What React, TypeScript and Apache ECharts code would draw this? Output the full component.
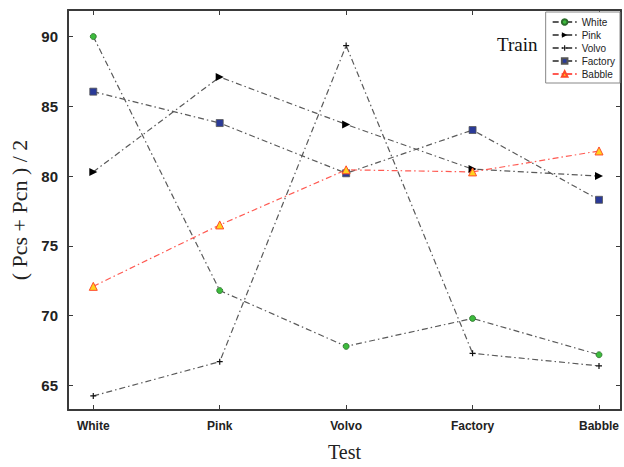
import React, { useEffect, useRef } from "react";
import * as echarts from "echarts";

const categories = ["White", "Pink", "Volvo", "Factory", "Babble"];
const whiteVals = [90.0, 71.8, 67.8, 69.8, 67.2];
const pinkVals = [80.3, 87.1, 83.7, 80.5, 80.0];
const volvoVals = [64.25, 66.7, 89.35, 67.3, 66.4];
const factoryVals = [86.05, 83.8, 80.2, 83.3, 78.3];
const babbleVals = [72.1, 76.5, 80.45, 80.3, 81.8];
const yTicks = [65, 70, 75, 80, 85, 90];
const xTicks = [0, 1, 2, 3, 4];

const toPts = (vals: number[]) => vals.map((v, i) => [i, v]);

const plusPath = "path://M4,0 L6,0 L6,4 L10,4 L10,6 L6,6 L6,10 L4,10 L4,6 L0,6 L0,4 L4,4 Z";

export default function App() {
  const ref = useRef<HTMLDivElement>(null);
  useEffect(() => {
    if (!ref.current) return;
    const chart = echarts.init(ref.current, null, { renderer: "svg" });
    const dashDot = [6, 3, 1.5, 3];
    const gray = "#5a5a5a";
    const axisColor = "#3a3a3a";
    const mkLine = (name: string, vals: number[], extra: any) => ({
      name,
      type: "line",
      data: toPts(vals),
      lineStyle: { color: gray, width: 1.2, type: dashDot },
      ...extra,
    });
    const xCommon = {
      type: "value",
      min: -0.2,
      max: 4.174,
      splitLine: { show: false },
      axisLine: { show: true, onZero: false, lineStyle: { color: axisColor, width: 2 } },
      axisTick: { show: true, inside: true, length: 5, customValues: xTicks, lineStyle: { color: axisColor, width: 1 } },
    };
    const yCommon = {
      type: "value",
      min: 63.24,
      max: 91.9,
      splitLine: { show: false },
      axisLine: { show: true, onZero: false, lineStyle: { color: axisColor, width: 2 } },
      axisTick: { show: true, inside: true, length: 5, customValues: yTicks, lineStyle: { color: axisColor, width: 1 } },
    };
    chart.setOption({
      animation: false,
      backgroundColor: "#ffffff",
      grid: { left: 66, right: 3, top: 10, bottom: 54, containLabel: false },
      xAxis: [
        {
          ...xCommon,
          position: "bottom",
          name: "Test",
          nameLocation: "middle",
          nameGap: 32,
          nameTextStyle: { fontFamily: "Liberation Serif", fontSize: 20, color: "#222" },
          axisLabel: {
            show: true,
            customValues: xTicks,
            formatter: (v: number) => categories[Math.round(v)] ?? "",
            fontFamily: "Liberation Sans",
            fontSize: 12,
            fontWeight: "bold",
            color: "#222",
            margin: 10,
          },
        },
        { ...xCommon, position: "top", axisLabel: { show: false } },
      ],
      yAxis: [
        {
          ...yCommon,
          position: "left",
          name: "( Pcs + Pcn ) / 2",
          nameLocation: "middle",
          nameGap: 38,
          nameTextStyle: { fontFamily: "Liberation Serif", fontSize: 22, color: "#222" },
          axisLabel: {
            show: true,
            customValues: yTicks,
            fontFamily: "Liberation Sans",
            fontSize: 15,
            fontWeight: "bold",
            color: "#222",
            margin: 10,
          },
        },
        { ...yCommon, position: "right", axisLabel: { show: false } },
      ],
      legend: {
        orient: "vertical",
        right: 4,
        top: 12,
        itemWidth: 24,
        itemHeight: 7,
        itemGap: 3,
        padding: [5, 5, 4, 6],
        borderColor: "#888",
        borderWidth: 1,
        backgroundColor: "#fff",
        textStyle: { fontFamily: "Liberation Sans", fontSize: 10, color: "#222" },
        data: ["White", "Pink", "Volvo", "Factory", "Babble"],
      },
      graphic: [
        {
          type: "text",
          left: 497,
          top: 35,
          style: { text: "Train", fontFamily: "Liberation Serif", fontSize: 19, fill: "#111" },
        },
      ],
      series: [
        mkLine("White", whiteVals, {
          symbol: "circle",
          symbolSize: 6,
          itemStyle: { color: "#3dbb3d", borderColor: "#2c6e2c", borderWidth: 0.8 },
        }),
        mkLine("Pink", pinkVals, {
          symbol: "triangle",
          symbolSize: 8,
          symbolRotate: -90,
          itemStyle: { color: "#000000", borderColor: "#000", borderWidth: 0 },
        }),
        mkLine("Volvo", volvoVals, {
          symbol: plusPath,
          symbolSize: 6,
          itemStyle: { color: "#111", borderWidth: 0 },
        }),
        mkLine("Factory", factoryVals, {
          symbol: "rect",
          symbolSize: 7,
          itemStyle: { color: "#2a3a98", borderColor: "#555", borderWidth: 0.8 },
        }),
        mkLine("Babble", babbleVals, {
          symbol: "triangle",
          symbolSize: 8,
          lineStyle: { color: "#ff5a52", width: 1.2, type: dashDot },
          itemStyle: { color: "#ffd21f", borderColor: "#ff4a2a", borderWidth: 1 },
        }),
      ],
    });
    return () => chart.dispose();
  }, []);
  return <div ref={ref} style={{ width: 624, height: 467, position: "absolute", left: 0, top: 0 }} />;
}
